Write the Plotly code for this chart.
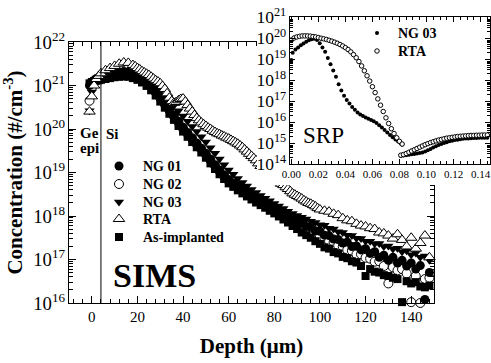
import plotly.graph_objects as go

SERIF = "Liberation Serif"

# ---------------- SIMS data (depth in um, log10 concentration) ----------------
depth = [-1, 0, 1, 2, 3, 4, 6, 8, 10, 12, 14, 16, 18, 20, 22, 24, 26, 28, 30, 32,
         34, 36, 38, 40, 42, 44, 46, 48, 50, 52, 54, 56, 58, 60, 62, 64, 66, 68, 70, 72,
         74, 76, 78, 80, 82, 84, 86, 88, 90, 92, 94, 96, 98, 100, 102, 104, 106, 108, 110, 112,
         114, 116, 118, 120, 122, 124, 126, 128, 130, 132, 134, 136, 138, 140, 142, 144, 146, 148]

ng01_log = [21.00, 21.08, 21.12, 21.16, 21.18, 21.20, 21.24, 21.27, 21.29, 21.31, 21.32, 21.31, 21.28, 21.24, 21.17, 21.09, 20.99, 20.87, 20.74, 20.60,
            20.46, 20.32, 20.18, 20.04, 19.92, 19.80, 19.68, 19.56, 19.44, 19.31, 19.18, 19.06, 18.94, 18.84, 18.76, 18.68, 18.61, 18.54, 18.47, 18.41,
            18.35, 18.29, 18.23, 18.17, 18.12, 18.05, 17.99, 17.95, 17.87, 17.84, 17.76, 17.74, 17.66, 17.65, 17.56, 17.55, 17.47, 17.46, 17.38, 17.40,
            17.30, 17.31, 17.22, 17.25, 17.14, 17.18, 17.05, 17.10, 16.98, 17.05, 16.92, 16.98, 16.85, 16.92, 16.78, 16.86, 16.08, 16.70]

ng02_log = [20.65, 20.95, 21.08, 21.12, 21.15, 21.17, 21.20, 21.23, 21.25, 21.28, 21.30, 21.29, 21.26, 21.21, 21.14, 21.06, 20.96, 20.84, 20.71, 20.57,
            20.43, 20.29, 20.15, 20.01, 19.89, 19.77, 19.65, 19.53, 19.41, 19.28, 19.15, 19.03, 18.91, 18.81, 18.73, 18.65, 18.58, 18.51, 18.44, 18.38,
            18.32, 18.26, 18.20, 18.14, 18.08, 18.02, 17.96, 17.90, 17.84, 17.76, 17.72, 17.64, 17.60, 17.52, 17.49, 17.42, 17.40, 17.32, 17.30, 17.22,
            17.20, 17.12, 17.12, 17.04, 17.02, 16.95, 16.96, 16.85, 16.45, 16.82, 16.75, 16.78, 16.68, 16.02, 16.62, 16.00, 16.55, 16.58]

ng03_log = [20.42, 20.85, 21.05, 21.12, 21.16, 21.19, 21.23, 21.27, 21.30, 21.33, 21.34, 21.33, 21.30, 21.26, 21.20, 21.13, 21.05, 20.96, 20.86, 20.76,
            20.65, 20.54, 20.42, 20.30, 20.18, 20.06, 19.94, 19.82, 19.70, 19.57, 19.44, 19.31, 19.18, 19.06, 18.96, 18.86, 18.77, 18.69, 18.61, 18.54,
            18.47, 18.41, 18.35, 18.29, 18.23, 18.17, 18.11, 18.06, 18.01, 17.97, 17.93, 17.88, 17.85, 17.80, 17.79, 17.72, 17.70, 17.64, 17.62, 17.56,
            17.55, 17.49, 17.48, 17.42, 17.42, 17.36, 17.37, 17.30, 17.31, 17.24, 17.26, 17.18, 17.20, 17.11, 17.15, 17.05, 17.08, 16.98]

asimp_log = [21.05, 21.08, 21.10, 21.11, 21.12, 21.13, 21.15, 21.17, 21.19, 21.20, 21.21, 21.20, 21.17, 21.13, 21.07, 20.99, 20.89, 20.77, 20.63, 20.49,
             20.35, 20.21, 20.07, 19.94, 19.82, 19.70, 19.58, 19.46, 19.34, 19.21, 19.08, 18.96, 18.85, 18.75, 18.67, 18.59, 18.52, 18.45, 18.38, 18.31,
             18.25, 18.19, 18.12, 18.06, 17.99, 17.92, 17.85, 17.77, 17.70, 17.62, 17.56, 17.50, 17.42, 17.36, 17.28, 17.25, 17.17, 17.14, 17.06, 17.03,
             16.96, 16.93, 16.85, 16.62, 16.78, 16.72, 16.70, 16.64, 16.62, 16.58, 16.55, 16.02, 16.50, 16.45, 16.48, 16.38, 16.36, 16.40]

depth_rta = [-1, 0, 1, 2, 3, 4, 6, 8, 10, 12, 14, 16,
             18, 19, 20, 21, 22, 23, 24, 25, 26, 27, 28, 29, 30, 31, 32, 33, 34, 35, 36, 37, 38, 39,
             40, 41, 42, 43, 44, 45, 46, 47, 48, 49, 50, 51, 52, 53, 54, 55, 56, 57, 58, 59,
             60, 61, 62, 63, 64, 65, 66, 67, 68, 69, 70, 71, 72, 73, 74, 75, 76, 77, 78, 79,
             80, 81, 82, 83, 84, 85, 86, 87, 88, 89, 90, 91, 92, 93, 94, 95, 96, 97, 98, 99, 100,
             102, 104, 106, 108, 110, 112, 114, 116, 118, 120, 122, 124, 126, 128, 130, 132, 134, 136, 138,
             140, 142, 144, 146, 148]
rta_log = [20.40, 20.75, 21.00, 21.15, 21.22, 21.28, 21.35, 21.40, 21.45, 21.50, 21.53, 21.52,
           21.47, 21.44, 21.40, 21.37, 21.33, 21.30, 21.27, 21.24, 21.20, 21.16, 21.12, 21.09, 21.05, 20.99, 20.92, 20.82, 20.72, 20.64, 20.60, 20.62, 20.66, 20.69,
           20.70, 20.63, 20.55, 20.47, 20.40, 20.32, 20.25, 20.20, 20.15, 20.11, 20.07, 20.03, 20.00, 19.96, 19.93, 19.90, 19.88, 19.85, 19.83, 19.80,
           19.78, 19.75, 19.72, 19.69, 19.66, 19.62, 19.58, 19.53, 19.48, 19.43, 19.38, 19.33, 19.28, 19.21, 19.15, 19.10, 19.05, 19.00, 18.95, 18.90,
           18.85, 18.81, 18.78, 18.74, 18.71, 18.66, 18.62, 18.57, 18.52, 18.49, 18.46, 18.43, 18.40, 18.36, 18.33, 18.30, 18.28, 18.25, 18.22, 18.18, 18.15,
           18.12, 18.10, 18.05, 18.02, 17.95, 17.90, 17.88, 17.82, 17.78, 17.76, 17.72, 17.70, 17.62, 17.60, 17.55, 17.48, 17.58, 17.45, 17.30,
           17.50, 17.25, 17.38, 17.55, 17.05]

# ---------------- SRP inset data (depth in um, log10 concentration) ----------------
srp_ng03_x = [0.000, 0.001, 0.003, 0.005, 0.007, 0.009, 0.011, 0.013, 0.015, 0.017, 0.019, 0.021, 0.023, 0.025, 0.027, 0.029,
              0.031, 0.033, 0.035, 0.037, 0.039, 0.041, 0.043, 0.045, 0.047, 0.049, 0.051, 0.053, 0.055, 0.057, 0.059, 0.061,
              0.063, 0.065, 0.067, 0.069, 0.071, 0.073, 0.075, 0.077, 0.079, 0.081, 0.082,
              0.081, 0.083, 0.085, 0.087, 0.089, 0.091, 0.093, 0.095, 0.097, 0.099, 0.101, 0.103, 0.105, 0.107, 0.109, 0.111,
              0.113, 0.115, 0.117, 0.119, 0.121, 0.123, 0.125, 0.127, 0.129, 0.131, 0.133, 0.135, 0.137, 0.139, 0.141, 0.143, 0.145]
srp_ng03_log = [18.95, 19.30, 19.45, 19.55, 19.65, 19.74, 19.82, 19.89, 19.94, 19.97, 19.90, 19.75, 19.55, 19.35, 19.05, 18.75,
                18.45, 18.15, 17.80, 17.50, 17.25, 17.05, 16.88, 16.72, 16.58, 16.45, 16.36, 16.29, 16.22, 16.16, 16.10, 16.03,
                15.95, 15.85, 15.74, 15.62, 15.50, 15.38, 15.27, 15.17, 15.07, 14.98, 14.93,
                14.38, 14.40, 14.42, 14.44, 14.46, 14.48, 14.50, 14.52, 14.55, 14.60, 14.66, 14.72, 14.78, 14.84, 14.90, 14.95,
                15.00, 15.04, 15.08, 15.11, 15.14, 15.16, 15.18, 15.20, 15.21, 15.22, 15.23, 15.24, 15.24, 15.25, 15.25, 15.25, 15.25]

srp_rta_x = [0.000, 0.002, 0.004, 0.006, 0.008, 0.010, 0.012, 0.014, 0.016, 0.018, 0.020, 0.022, 0.024, 0.026, 0.028, 0.030,
             0.032, 0.034, 0.036, 0.038, 0.040, 0.042, 0.044, 0.046, 0.048, 0.050, 0.052, 0.054, 0.056, 0.058, 0.060, 0.062,
             0.064, 0.066, 0.068, 0.070, 0.072, 0.074, 0.076, 0.078, 0.080, 0.082,
             0.081, 0.083, 0.085, 0.087, 0.089, 0.091, 0.093, 0.095, 0.097, 0.099, 0.101, 0.103, 0.105, 0.107, 0.109, 0.111,
             0.113, 0.115, 0.117, 0.119, 0.121, 0.123, 0.125, 0.127, 0.129, 0.131, 0.133, 0.135, 0.137, 0.139, 0.141, 0.143, 0.145]
srp_rta_log = [19.90, 20.00, 20.05, 20.08, 20.10, 20.10, 20.10, 20.09, 20.07, 20.05, 20.02, 19.99, 19.96, 19.93, 19.89, 19.85,
               19.80, 19.75, 19.69, 19.62, 19.54, 19.45, 19.34, 19.21, 19.06, 18.88, 18.67, 18.44, 18.20, 17.95, 17.68, 17.40,
               17.10, 16.80, 16.50, 16.20, 15.93, 15.68, 15.45, 15.25, 15.08, 14.95,
               14.42, 14.45, 14.50, 14.56, 14.62, 14.68, 14.74, 14.80, 14.86, 14.92, 14.97, 15.02, 15.06, 15.10, 15.14, 15.17,
               15.20, 15.23, 15.25, 15.27, 15.29, 15.31, 15.32, 15.33, 15.34, 15.35, 15.36, 15.36, 15.37, 15.37, 15.38, 15.38, 15.38]

ge_si_interface = 4

W, H = 491, 363


def px(x):
    return x / W


def py(y):
    return 1 - y / H


def to_conc(vals):
    return [10 ** v for v in vals]


fig = go.Figure()

# (name, depths, values, marker, legend id, legend row y in px)
main_series = [
    ("NG 02", depth, ng02_log, dict(symbol="circle", size=9, color="white", line=dict(color="black", width=1)), "legend3", 184),
    ("NG 01", depth, ng01_log, dict(symbol="circle", size=9, color="black"), "legend", 166),
    ("NG 03", depth, ng03_log, dict(symbol="triangle-down", size=9, color="black"), "legend4", 202),
    ("As-implanted", depth, asimp_log, dict(symbol="square", size=8, color="black"), "legend6", 237),
    ("RTA", depth_rta, rta_log, dict(symbol="triangle-up", size=10, color="white", line=dict(color="black", width=1)), "legend5", 219),
]
for name, xs, vals, mk, leg, _ in main_series:
    fig.add_trace(go.Scatter(x=xs, y=to_conc(vals), mode="markers", name=name,
                             marker=mk, cliponaxis=False,
                             xaxis="x", yaxis="y", legend=leg))

# cover subplot (white box behind the inset)
fig.add_trace(go.Scatter(x=[None], y=[None], mode="markers", showlegend=False,
                         xaxis="x2", yaxis="y2", hoverinfo="skip"))

inset_series = [
    ("NG 03", srp_ng03_x, srp_ng03_log, dict(symbol="circle", size=4, color="black"), "legend2", 33),
    ("RTA", srp_rta_x, srp_rta_log, dict(symbol="circle", size=4.5, color="white", line=dict(color="black", width=1)), "legend7", 51),
]
for name, xs, vals, mk, leg, _ in inset_series:
    fig.add_trace(go.Scatter(x=xs, y=to_conc(vals), mode="markers", name=name, marker=mk,
                             xaxis="x3", yaxis="y3", legend=leg))

tickfont = dict(family=SERIF, size=15, color="black")
common = dict(showgrid=False, zeroline=False, showline=True, linecolor="black", linewidth=1,
              mirror="ticks", ticks="inside", tickcolor="black", automargin=False)

legfont = dict(family=SERIF, size=14, color="black", weight="bold")
legends = {}
for _, _, _, _, leg, rowy in main_series:
    legends[leg] = dict(x=px(95), y=py(rowy - 15.6), xanchor="left", yanchor="top",
                        bgcolor="rgba(0,0,0,0)", font=legfont, itemwidth=38)
for _, _, _, _, leg, rowy in inset_series:
    legends[leg] = dict(x=px(356), y=py(rowy - 15.6), xanchor="left", yanchor="top",
                        bgcolor="rgba(0,0,0,0)", font=legfont, itemwidth=32)

fig.update_layout(
    width=W, height=H,
    margin=dict(l=0, r=0, t=0, b=0, autoexpand=False),
    paper_bgcolor="white", plot_bgcolor="white",
    font=dict(family=SERIF, color="black"),
    xaxis=dict(domain=[px(69), px(434)], anchor="y", range=[-10, 150], tick0=0, dtick=20,
               ticklen=7, tickwidth=1, tickfont=tickfont,
               minor=dict(ticks="inside", ticklen=4, dtick=4, tick0=0, tickcolor="black", showgrid=False),
               title=dict(text="Depth (μm)", font=dict(family=SERIF, size=21, weight="bold"), standoff=14),
               **common),
    yaxis=dict(domain=[py(303), py(42)], anchor="x", type="log", range=[16, 22], dtick=1,
               exponentformat="power", ticklen=7, tickwidth=1, tickfont=tickfont,
               minor=dict(ticks="inside", ticklen=4, dtick="D1", tickcolor="black", showgrid=False),
               title=dict(text="Concentration (#/cm<sup>-3</sup>)", font=dict(family=SERIF, size=21, weight="bold"), standoff=4),
               **common),
    xaxis2=dict(domain=[px(257), 1.0], anchor="y2", visible=False, range=[0, 1], automargin=False),
    yaxis2=dict(domain=[py(185), 1.0], anchor="x2", visible=False, range=[0, 1], automargin=False),
    xaxis3=dict(domain=[px(290), px(490)], anchor="y3", range=[-0.001, 0.147], tick0=0, dtick=0.02,
                tickformat=".2f", ticklen=5, tickfont=dict(family=SERIF, size=11, color="black"),
                minor=dict(ticks="inside", ticklen=3, dtick=0.005, tick0=0, tickcolor="black", showgrid=False),
                **common),
    yaxis3=dict(domain=[py(164), py(17)], anchor="x3", type="log", range=[14, 21], dtick=1,
                exponentformat="power", ticklen=5, tickfont=dict(family=SERIF, size=14, color="black"),
                minor=dict(ticks="inside", ticklen=3, dtick="D1", tickcolor="black", showgrid=False),
                **common),
    showlegend=True,
    **legends,
)

fig.add_shape(type="line", xref="x", yref="y domain", x0=ge_si_interface, x1=ge_si_interface,
              y0=0, y1=1, line=dict(color="black", width=1))

ann = [
    ("Ge", 89, 133, 15, "bold"),
    ("epi", 89, 148, 15, "bold"),
    ("Si", 112, 134, 15, "bold"),
    ("SIMS", 154, 275, 34, "bold"),
    ("SRP", 323, 135, 23, "normal"),
]
for text, x, y, size, weight in ann:
    fig.add_annotation(text=text, x=px(x), y=py(y), xref="paper", yref="paper",
                       xanchor="center", yanchor="middle", showarrow=False,
                       font=dict(family=SERIF, size=size, color="black", weight=weight))

fig.write_html("out.html", config={"displayModeBar": False},
               post_script="document.body.style.margin='0';")
